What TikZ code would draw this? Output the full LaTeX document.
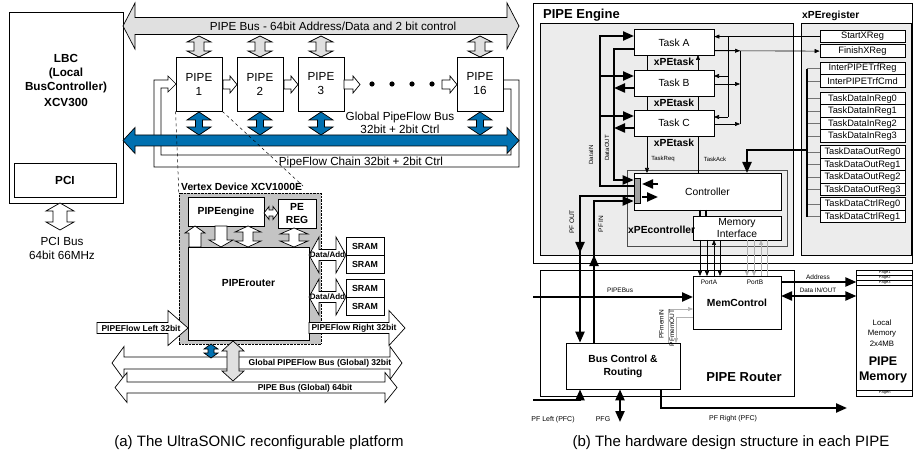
\documentclass[tikz,border=0pt]{standalone}
\usepackage{fontspec}
\setmainfont{Liberation Sans}
\setsansfont{Liberation Sans}
\usetikzlibrary{arrows.meta, positioning}

\definecolor{busblue}{RGB}{0,112,176}
\definecolor{busgray}{RGB}{224,224,224}
\definecolor{devgray}{RGB}{196,196,196}
\definecolor{enggray}{RGB}{236,236,236}
\definecolor{pluggray}{RGB}{160,160,160}

% hollow bus arrows: [style]{from}{to}{centre}{shaft half}{head half}{head length}
\newcommand{\hsingle}[7][hollow]{%
  \draw[#1] (#2,{#4-(#5)}) -- ({#3-(#7)},{#4-(#5)}) -- ({#3-(#7)},{#4-(#6)}) -- (#3,#4)
    -- ({#3-(#7)},{#4+(#6)}) -- ({#3-(#7)},{#4+(#5)}) -- (#2,{#4+(#5)}) -- cycle;}
\newcommand{\vsingle}[7][hollow]{%
  \draw[#1] ({#2-(#5)},#3) -- ({#2-(#5)},{#4-(#7)}) -- ({#2-(#6)},{#4-(#7)}) -- (#2,#4)
    -- ({#2+(#6)},{#4-(#7)}) -- ({#2+(#5)},{#4-(#7)}) -- ({#2+(#5)},#3) -- cycle;}
\newcommand{\hdouble}[7][hollow]{%
  \draw[#1] (#2,#4) -- ({#2+(#7)},{#4-(#6)}) -- ({#2+(#7)},{#4-(#5)}) -- ({#3-(#7)},{#4-(#5)})
    -- ({#3-(#7)},{#4-(#6)}) -- (#3,#4) -- ({#3-(#7)},{#4+(#6)}) -- ({#3-(#7)},{#4+(#5)})
    -- ({#2+(#7)},{#4+(#5)}) -- ({#2+(#7)},{#4+(#6)}) -- cycle;}
\newcommand{\vdouble}[7][hollow]{%
  \draw[#1] (#2,#3) -- ({#2-(#6)},{#3+(#7)}) -- ({#2-(#5)},{#3+(#7)}) -- ({#2-(#5)},{#4-(#7)})
    -- ({#2-(#6)},{#4-(#7)}) -- (#2,#4) -- ({#2+(#6)},{#4-(#7)}) -- ({#2+(#5)},{#4-(#7)})
    -- ({#2+(#5)},{#3+(#7)}) -- ({#2+(#6)},{#3+(#7)}) -- cycle;}

\tikzset{
    box/.style={rectangle, draw, fill=white, line width=0.7pt, inner sep=0pt, align=center},
    hollow/.style={draw, fill=white, line width=0.7pt},
    graybus/.style={hollow, fill=busgray},
    bluebus/.style={hollow, fill=busblue},
    bus/.style={draw, line width=2.2pt},
    busarrow/.style={bus, -{Triangle[length=11pt, width=9pt]}},
    busboth/.style={bus, {Triangle[length=11pt, width=9pt]}-{Triangle[length=11pt, width=9pt]}},
    sig/.style={draw, line width=0.6pt, -{Triangle[length=5pt, width=4pt]}},
    sigline/.style={draw, line width=0.6pt},
    lightsig/.style={sig, draw=black!30},
    biglbl/.style={font=\fontsize{11.7}{14}\selectfont, align=center, inner sep=0pt},
    bigbold/.style={font=\bfseries\fontsize{11.7}{13.8}\selectfont, align=center, inner sep=0pt},
    midbold/.style={font=\bfseries\fontsize{10.3}{12.5}\selectfont, align=center, inner sep=0pt},
    midlbl/.style={font=\fontsize{10.3}{12}\selectfont, align=center, inner sep=0pt},
    smallbold/.style={font=\bfseries\fontsize{8.5}{10}\selectfont, inner sep=0pt},
    reglbl/.style={font=\fontsize{9.3}{11}\selectfont},
    tinylbl/.style={font=\fontsize{6.5}{7.5}\selectfont, inner sep=0pt},
    pagelbl/.style={font=\fontsize{4}{4.5}\selectfont, inner sep=0pt},
    hugebold/.style={font=\bfseries\fontsize{13}{15}\selectfont, align=center, inner sep=0pt},
    caption/.style={font=\fontsize{15}{18}\selectfont, inner sep=0pt},
    regbox/.style={box, reglbl, minimum width=85, minimum height=12.5, anchor=north},
    taskbox/.style={box, midlbl, minimum width=80, minimum height=26}
}

\begin{document}
\begin{tikzpicture}[x=1pt, y=-1pt]
\useasboundingbox (0,0) rectangle (913,457);

% ---------- (a) UltraSONIC platform ----------
% local bus controller
\node[box, minimum width=114, minimum height=191] (lbc) at (66,107.5) {};
\node[bigbold] (lbctext) at (66,80.5) {LBC\\(Local\\BusController)\\[2pt]XCV300};
\node[box, bigbold, minimum width=102, minimum height=34] (pci) at (65,180) {PCI};
\vdouble{60}{203}{230}{7}{14}{8}
\node[biglbl] (pcibus) at (62,248) {PCI Bus\\64bit 66MHz};

% PIPE bus on top
\hdouble[graybus]{123}{519}{26}{8.5}{23}{12}
\node[biglbl] (pipebuslbl) at (333,26) {PIPE Bus - 64bit Address/Data and 2 bit control};

% PipeFlow chain loop
\draw[hollow, fill=none] (503,80) -- (519,80) -- (519,167) -- (154,167) -- (154,80) -- (168,80)
    -- (168,76) -- (176,84) -- (168,92) -- (168,88) -- (161,88) -- (161,155) -- (511,155)
    -- (511,89) -- (503,89);
\node[biglbl] (chainlbl) at (361,162) {PipeFlow Chain 32bit + 2bit Ctrl};

% PIPEs
\foreach \x/\k in {199/1, 260/2, 321/3, 480/16} {
    \node[box, biglbl, minimum width=46, minimum height=54] (pipe\k) at (\x,84) {PIPE\\\k};
    \vdouble[graybus]{\x}{36}{57}{5}{12}{6}
    \vdouble[bluebus]{\x}{112}{135}{3.5}{12}{8}
}
\hsingle{223}{237}{84.5}{4.5}{8.5}{7}
\hsingle{284}{298}{84.5}{4.5}{8.5}{7}
\hsingle{344}{360}{84.5}{4.5}{8.5}{7}
\hsingle{442}{457}{84.5}{4.5}{8.5}{7}
\foreach \x in {372,392,412,432}
    \fill (\x,84) circle (2.6);

% global pipeflow bus
\hdouble[bluebus]{123}{519}{140.5}{5.5}{13}{12}
\node[biglbl, font=\fontsize{11.7}{12.5}\selectfont] (globallbl) at (400,123) {Global PipeFlow Bus\\32bit + 2bit Ctrl};

% Vertex device
\node[draw, densely dotted, fill=devgray, minimum width=142, minimum height=151, inner sep=0pt] (vertex) at (250,268.5) {};
\node[midbold, anchor=west] (vertexlbl) at (181,187) {Vertex Device XCV1000E};
\coordinate (vtxtip) at (303,186);
\draw[dashed, line width=0.5pt] (pipe1.south west) -- (vertex.north west);
\draw[dashed, line width=0.5pt] (pipe1.south east) -- (vtxtip);

\node[box, midbold, minimum width=76, minimum height=29] (pipeengine) at (226,211.5) {PIPEengine};
\node[box, midbold, minimum width=38, minimum height=29] (pereg) at (297,213.5) {PE\\REG};
\node[box, minimum width=121, minimum height=93] (piperouter) at (248.5,293.5) {};
\node[midbold] (routerlbl) at (248.5,283) {PIPErouter};
\hdouble{264}{278}{213}{3}{6.5}{5}
\vsingle{195}{247}{226}{6}{10}{-7}
\vsingle{221}{226}{247}{6}{12}{7}
\vdouble{248}{226}{247}{5}{13}{6}
\vdouble{294}{228}{247}{5}{14}{6}

% SRAMs
\foreach \y in {255,297} {
    \hdouble{309}{346}{\y}{5.5}{18}{10}
    \node[smallbold, font=\bfseries\fontsize{8}{9}\selectfont] (dataadd\y) at (327.5,\y) {Data/Add};
}
\foreach \y/\k in {246/1, 264/2, 288/3, 306/4}
    \node[box, smallbold, font=\bfseries\fontsize{8.8}{10}\selectfont, minimum width=38, minimum height=18] (sram\k) at (365,\y) {SRAM};

% pipeflow left / right
\hsingle{97}{188}{328}{5.5}{17.5}{20}
\node[smallbold] (pfleftlbl) at (141,328) {PIPEFlow Left 32bit};
\hsingle{309}{405}{328}{5.5}{17.5}{16}
\node[smallbold] (pfrightlbl) at (354,328) {PIPEFlow Right 32bit};

% global buses below
\hdouble{112}{402}{363}{6}{16.5}{12}
\node[smallbold] (globalbuslbl) at (320,363) {Global PIPEFlow Bus (Global) 32bit};
\hdouble{115}{397}{387.5}{5.5}{15}{12}
\node[smallbold] (pipebusglbl) at (305,388) {PIPE Bus (Global) 64bit};
\vdouble[bluebus]{211}{344}{358}{3}{7}{5}
\vdouble[graybus]{233}{341}{381}{6}{11}{10}

\node[caption] (capa) at (259,443) {(a) The UltraSONIC reconfigurable platform};

% ---------- (b) PIPE hardware ----------
% PIPE engine
\node[draw, line width=0.7pt, minimum width=379.5, minimum height=260, inner sep=0pt] (engframe) at (722.75,133) {};
\node[draw, line width=0.6pt, fill=enggray, minimum width=253, minimum height=232, inner sep=0pt] (engine) at (666.5,139) {};
\node[hugebold, anchor=west] (enginelbl) at (543,15) {PIPE Engine};
\node[draw, line width=0.6pt, fill=enggray, minimum width=110, minimum height=232, inner sep=0pt] (xperegister) at (856,139) {};
\node[midbold, anchor=west] (xperegisterlbl) at (802,16) {xPEregister};

% registers
\foreach \k/\t/\y in {start/StartXReg/30, finish/FinishXReg/44.5, ireg/InterPIPETrfReg/62,
        icmd/InterPIPETrfCmd/74.5, in0/TaskDataInReg0/92, in1/TaskDataInReg1/104.5,
        in2/TaskDataInReg2/117, in3/TaskDataInReg3/129.5, out0/TaskDataOutReg0/145.5,
        out1/TaskDataOutReg1/158, out2/TaskDataOutReg2/170.5, out3/TaskDataOutReg3/183,
        ctrl0/TaskDataCtrlReg0/197.5, ctrl1/TaskDataCtrlReg1/210}
    \node[regbox] (\k) at (862.5,\y) {\t};
\foreach \k in {ireg,icmd,in0,in1,in2,in3,out0,out1,out2,out3,ctrl0,ctrl1}
    \draw[sigline, draw=black!55] (\k.west) -- ++(-13,0);
\draw[bus] ([xshift=-13pt]ireg.west) -- ([xshift=-13pt]ctrl1.west);

% controller
\node[box, fill=enggray, draw=black!70, minimum width=160, minimum height=76] (xpectrl) at (707,208) {};
\node[box, midlbl, minimum width=147, minimum height=37] (controller) at (707.5,191.5) {Controller};
\node[box, midlbl, minimum width=88, minimum height=24] (meminterface) at (737,228) {Memory\\Interface};
\node[midbold, anchor=west] (xpectrllbl) at (628,230) {xPEcontroller};
\draw[line width=2pt] (700,210) -- (700,216);
\draw[line width=2pt] (706,210) -- (706,216);
\coordinate (regtap) at (807,150);
\draw[busarrow] (regtap) -- (747,150) -- (747,173);

% task handshake
\draw[sig] (647,55) -- (647,173);
\draw[sig] (698,173) -- (698,55);
\node[tinylbl, font=\fontsize{6}{7}\selectfont] (taskreqlbl) at (663,159) {TaskReq};
\node[tinylbl, font=\fontsize{6}{7}\selectfont] (taskacklbl) at (715,159) {TaskAck};

% tasks
\node[taskbox] (taskA) at (674,42.5) {Task A};
\node[taskbox] (taskB) at (674,83) {Task B};
\node[taskbox] (taskC) at (674,123) {Task C};
\node[midbold, below=2pt of taskA] (xpetaskA) {xPEtask};
\node[midbold, below=2pt of taskB] (xpetaskB) {xPEtask};
\node[midbold, below=2pt of taskC] (xpetaskC) {xPEtask};

% start / finish
\draw[sig] (start.west) -- (start.west -| taskA.east);
\draw[sigline] (728,36.25) -- (728,117);
\draw[sig] (728,76) -- (714,76);
\draw[sig] (728,117) -- (714,117);
\draw[sig] (714,50.75) -- (finish.west);
\draw[sig] (714,50.75) -- (740,50.75);
\draw[sig] (714,84) -- (740,84);
\draw[sig] (714,124) -- (740,124);
\draw[sigline] (740,50.75) -- (740,124);

% data to and from tasks
\node[draw, fill=pluggray, line width=0.6pt, minimum width=6, minimum height=25, inner sep=0pt] (plug) at (637,190.5) {};
\draw[busarrow] (634,49) -- (614,49) -- (614,180) -- (plug.west |- 0,180);
\draw[busarrow] (634,88) -- (614,88);
\draw[busarrow] (634,128) -- (614,128);
\draw[busarrow] (plug.west |- 0,186) -- (600,186) -- (600,36) -- (634,36);
\draw[busarrow] (600,76) -- (634,76);
\draw[busarrow] (600,116) -- (634,116);
\draw[busarrow] (658,184) -- (642,184);
\draw[busarrow] (642,197) -- (658,197);
\node[tinylbl, font=\fontsize{6}{7}\selectfont, rotate=90] (datainlbl) at (591,155) {DataIN};
\node[tinylbl, font=\fontsize{6}{7}\selectfont, rotate=90] (dataoutlbl) at (607,148) {DataOUT};

% PIPE router
\node[box, minimum width=254, minimum height=126] (piperouterB) at (667,333) {};
\node[hugebold] (piperouterlbl) at (744,377) {PIPE Router};
\node[box, midbold, minimum width=88, minimum height=53] (memcontrol) at (737,302.5) {MemControl};
\node[tinylbl] (portAlbl) at (709,282) {PortA};
\node[tinylbl] (portBlbl) at (755,282) {PortB};
\node[box, midbold, minimum width=114, minimum height=46, font=\bfseries\fontsize{10.3}{13}\selectfont] (busctrl) at (623,366) {Bus Control \&\\Routing};

% PIPE memory
\node[box, minimum width=56, minimum height=126] (pipemem) at (884.75,333) {};
\foreach \y in {275,280,285,390}
    \draw[line width=0.5pt] (pipemem.west |- 0,\y) -- (pipemem.east |- 0,\y);
\node[pagelbl] (page1) at (884.75,272.5) {Page1};
\node[pagelbl] (page2) at (884.75,277.5) {Page2};
\node[pagelbl] (page3) at (884.75,282.5) {Page3};
\node[pagelbl] (pagen) at (884.75,393) {Pagen};
\node[tinylbl, font=\fontsize{7.8}{10.5}\selectfont, align=center] (localmem) at (882,333) {Local\\Memory\\2x4MB};
\node[hugebold, font=\bfseries\fontsize{12.5}{15}\selectfont] (pipememlbl) at (883,369.5) {PIPE\\Memory};

% memory interface ports
\draw[sig] (700,240) -- (700,276);
\draw[sig] (707,240) -- (707,276);
\draw[sig] (714,276) -- (714,240);
\draw[sig] (720,240) -- (720,276);
\draw[lightsig] (747,240) -- (747,276);
\draw[lightsig] (754,240) -- (754,276);
\draw[lightsig] (761,276) -- (761,240);
\draw[sigline, draw=black!30] (767,240) -- (767,276);

% router buses
\draw[busarrow] (533,297) -- (693,297);
\node[tinylbl] (pipebuslblB) at (620,290) {PIPEBus};
\draw[busarrow] (781,282) -- (pipemem.west |- 0,282);
\node[tinylbl] (addresslbl) at (818,277) {Address};
\draw[busboth] (781,296) -- (pipemem.west |- 0,296);
\node[tinylbl, font=\fontsize{6.3}{7}\selectfont] (datainoutlbl) at (818,290.5) {Data IN/OUT};
\draw[lightsig] (668,343) -- (668,309) -- (693,309);
\draw[lightsig] (693,317) -- (676,317) -- (676,343);
\node[tinylbl, rotate=90] (pfmeminlbl) at (661.5,324) {PFmemIN};
\node[tinylbl, rotate=90] (pfmemoutlbl) at (672,328) {PFmemOUT};

% pipeflow in and out
\draw[bus] (plug.west |- 0,196) -- (580,196) -- (580,230);
\draw[busarrow] (580,230) -- (580,253);
\draw[busarrow] (580,250) -- (busctrl.north -| 580,0);
\draw[busarrow] (busctrl.north -| 594,0) -- (594,255);
\draw[busarrow] (594,262) -- (594,201) -- (plug.west |- 0,201);
\node[tinylbl, rotate=90] (pfoutlbl) at (572,222) {PF OUT};
\node[tinylbl, rotate=90] (pfinlbl) at (601,224) {PF IN};
\draw[busarrow] (533,400) -- (580,400) -- (busctrl.south -| 580,0);
\draw[busboth] (busctrl.south -| 620,0) -- (620,422);
\draw[busarrow] (busctrl.south -| 661,0) -- (661,408) -- (847,408);
\node[tinylbl, font=\fontsize{7}{8}\selectfont] (pfleftlblB) at (553,420) {PF Left (PFC)};
\node[tinylbl, font=\fontsize{7}{8}\selectfont] (pfglbl) at (603,419) {PFG};
\node[tinylbl, font=\fontsize{7}{8}\selectfont] (pfrightlblB) at (733,419) {PF Right (PFC)};

\node[caption] (capb) at (731,443) {(b) The hardware design structure in each PIPE};

\end{tikzpicture}
\end{document}
